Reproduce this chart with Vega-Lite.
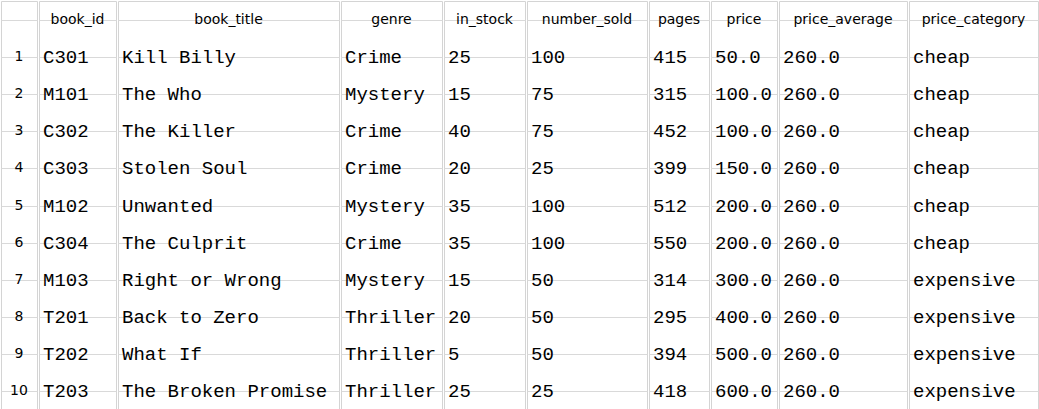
{
  "$schema": "https://vega.github.io/schema/vega-lite/v6.json",
  "padding": 0,
  "background": "white",
  "datasets": {
    "books": [
      {"n": "1", "book_id": "C301", "book_title": "Kill Billy", "genre": "Crime", "in_stock": "25", "number_sold": "100", "pages": "415", "price": "50.0", "price_average": "260.0", "price_category": "cheap"},
      {"n": "2", "book_id": "M101", "book_title": "The Who", "genre": "Mystery", "in_stock": "15", "number_sold": "75", "pages": "315", "price": "100.0", "price_average": "260.0", "price_category": "cheap"},
      {"n": "3", "book_id": "C302", "book_title": "The Killer", "genre": "Crime", "in_stock": "40", "number_sold": "75", "pages": "452", "price": "100.0", "price_average": "260.0", "price_category": "cheap"},
      {"n": "4", "book_id": "C303", "book_title": "Stolen Soul", "genre": "Crime", "in_stock": "20", "number_sold": "25", "pages": "399", "price": "150.0", "price_average": "260.0", "price_category": "cheap"},
      {"n": "5", "book_id": "M102", "book_title": "Unwanted", "genre": "Mystery", "in_stock": "35", "number_sold": "100", "pages": "512", "price": "200.0", "price_average": "260.0", "price_category": "cheap"},
      {"n": "6", "book_id": "C304", "book_title": "The Culprit", "genre": "Crime", "in_stock": "35", "number_sold": "100", "pages": "550", "price": "200.0", "price_average": "260.0", "price_category": "cheap"},
      {"n": "7", "book_id": "M103", "book_title": "Right or Wrong", "genre": "Mystery", "in_stock": "15", "number_sold": "50", "pages": "314", "price": "300.0", "price_average": "260.0", "price_category": "expensive"},
      {"n": "8", "book_id": "T201", "book_title": "Back to Zero", "genre": "Thriller", "in_stock": "20", "number_sold": "50", "pages": "295", "price": "400.0", "price_average": "260.0", "price_category": "expensive"},
      {"n": "9", "book_id": "T202", "book_title": "What If", "genre": "Thriller", "in_stock": "5", "number_sold": "50", "pages": "394", "price": "500.0", "price_average": "260.0", "price_category": "expensive"},
      {"n": "10", "book_id": "T203", "book_title": "The Broken Promise", "genre": "Thriller", "in_stock": "25", "number_sold": "25", "pages": "418", "price": "600.0", "price_average": "260.0", "price_category": "expensive"}
    ]
  },
  "data": {"name": "books"},
  "config": {
    "concat": {"spacing": 0},
    "view": {"stroke": "#d4d4d4"},
    "axisY": {"domain": false, "labels": false, "ticks": false, "title": null, "grid": true, "gridColor": "#d9d9d9", "tickBand": "extent"}
  },
  "hconcat": [
    {"width": 36, "height": 409, "layer": [
      {"mark": {"type": "text", "font": "DejaVu Sans", "fontSize": 14, "color": "#000"}, "encoding": {"y": {"field": "n", "type": "ordinal", "scale": {"domain": ["h","1","2","3","4","5","6","7","8","9","10"]}}, "text": {"field": "n"}}}
    ]},
    {"width": 77, "height": 409, "layer": [
      {"mark": {"type": "text", "align": "left", "font": "Liberation Mono", "fontSize": 19, "color": "#000"}, "encoding": {"y": {"field": "n", "type": "ordinal", "scale": {"domain": ["h","1","2","3","4","5","6","7","8","9","10"]}}, "x": {"value": 4}, "text": {"field": "book_id"}}},
      {"data": {"values": [{"n": "h"}]}, "mark": {"type": "text", "font": "DejaVu Sans", "fontSize": 14, "color": "#000"}, "encoding": {"y": {"field": "n", "type": "ordinal"}, "text": {"value": "book_id"}}}
    ]},
    {"width": 221, "height": 409, "layer": [
      {"mark": {"type": "text", "align": "left", "font": "Liberation Mono", "fontSize": 19, "color": "#000"}, "encoding": {"y": {"field": "n", "type": "ordinal", "scale": {"domain": ["h","1","2","3","4","5","6","7","8","9","10"]}}, "x": {"value": 4}, "text": {"field": "book_title"}}},
      {"data": {"values": [{"n": "h"}]}, "mark": {"type": "text", "font": "DejaVu Sans", "fontSize": 14, "color": "#000"}, "encoding": {"y": {"field": "n", "type": "ordinal"}, "text": {"value": "book_title"}}}
    ]},
    {"width": 101, "height": 409, "layer": [
      {"mark": {"type": "text", "align": "left", "font": "Liberation Mono", "fontSize": 19, "color": "#000"}, "encoding": {"y": {"field": "n", "type": "ordinal", "scale": {"domain": ["h","1","2","3","4","5","6","7","8","9","10"]}}, "x": {"value": 4}, "text": {"field": "genre"}}},
      {"data": {"values": [{"n": "h"}]}, "mark": {"type": "text", "font": "DejaVu Sans", "fontSize": 14, "color": "#000"}, "encoding": {"y": {"field": "n", "type": "ordinal"}, "text": {"value": "genre"}}}
    ]},
    {"width": 81, "height": 409, "layer": [
      {"mark": {"type": "text", "align": "left", "font": "Liberation Mono", "fontSize": 19, "color": "#000"}, "encoding": {"y": {"field": "n", "type": "ordinal", "scale": {"domain": ["h","1","2","3","4","5","6","7","8","9","10"]}}, "x": {"value": 4}, "text": {"field": "in_stock"}}},
      {"data": {"values": [{"n": "h"}]}, "mark": {"type": "text", "font": "DejaVu Sans", "fontSize": 14, "color": "#000"}, "encoding": {"y": {"field": "n", "type": "ordinal"}, "text": {"value": "in_stock"}}}
    ]},
    {"width": 120, "height": 409, "layer": [
      {"mark": {"type": "text", "align": "left", "font": "Liberation Mono", "fontSize": 19, "color": "#000"}, "encoding": {"y": {"field": "n", "type": "ordinal", "scale": {"domain": ["h","1","2","3","4","5","6","7","8","9","10"]}}, "x": {"value": 4}, "text": {"field": "number_sold"}}},
      {"data": {"values": [{"n": "h"}]}, "mark": {"type": "text", "font": "DejaVu Sans", "fontSize": 14, "color": "#000"}, "encoding": {"y": {"field": "n", "type": "ordinal"}, "text": {"value": "number_sold"}}}
    ]},
    {"width": 60, "height": 409, "layer": [
      {"mark": {"type": "text", "align": "left", "font": "Liberation Mono", "fontSize": 19, "color": "#000"}, "encoding": {"y": {"field": "n", "type": "ordinal", "scale": {"domain": ["h","1","2","3","4","5","6","7","8","9","10"]}}, "x": {"value": 4}, "text": {"field": "pages"}}},
      {"data": {"values": [{"n": "h"}]}, "mark": {"type": "text", "font": "DejaVu Sans", "fontSize": 14, "color": "#000"}, "encoding": {"y": {"field": "n", "type": "ordinal"}, "text": {"value": "pages"}}}
    ]},
    {"width": 66, "height": 409, "layer": [
      {"mark": {"type": "text", "align": "left", "font": "Liberation Mono", "fontSize": 19, "color": "#000"}, "encoding": {"y": {"field": "n", "type": "ordinal", "scale": {"domain": ["h","1","2","3","4","5","6","7","8","9","10"]}}, "x": {"value": 4}, "text": {"field": "price"}}},
      {"data": {"values": [{"n": "h"}]}, "mark": {"type": "text", "font": "DejaVu Sans", "fontSize": 14, "color": "#000"}, "encoding": {"y": {"field": "n", "type": "ordinal"}, "text": {"value": "price"}}}
    ]},
    {"width": 128, "height": 409, "layer": [
      {"mark": {"type": "text", "align": "left", "font": "Liberation Mono", "fontSize": 19, "color": "#000"}, "encoding": {"y": {"field": "n", "type": "ordinal", "scale": {"domain": ["h","1","2","3","4","5","6","7","8","9","10"]}}, "x": {"value": 4}, "text": {"field": "price_average"}}},
      {"data": {"values": [{"n": "h"}]}, "mark": {"type": "text", "font": "DejaVu Sans", "fontSize": 14, "color": "#000"}, "encoding": {"y": {"field": "n", "type": "ordinal"}, "text": {"value": "price_average"}}}
    ]},
    {"width": 129, "height": 409, "layer": [
      {"mark": {"type": "text", "align": "left", "font": "Liberation Mono", "fontSize": 19, "color": "#000"}, "encoding": {"y": {"field": "n", "type": "ordinal", "scale": {"domain": ["h","1","2","3","4","5","6","7","8","9","10"]}}, "x": {"value": 4}, "text": {"field": "price_category"}}},
      {"data": {"values": [{"n": "h"}]}, "mark": {"type": "text", "font": "DejaVu Sans", "fontSize": 14, "color": "#000"}, "encoding": {"y": {"field": "n", "type": "ordinal"}, "text": {"value": "price_category"}}}
    ]}
  ]
}
